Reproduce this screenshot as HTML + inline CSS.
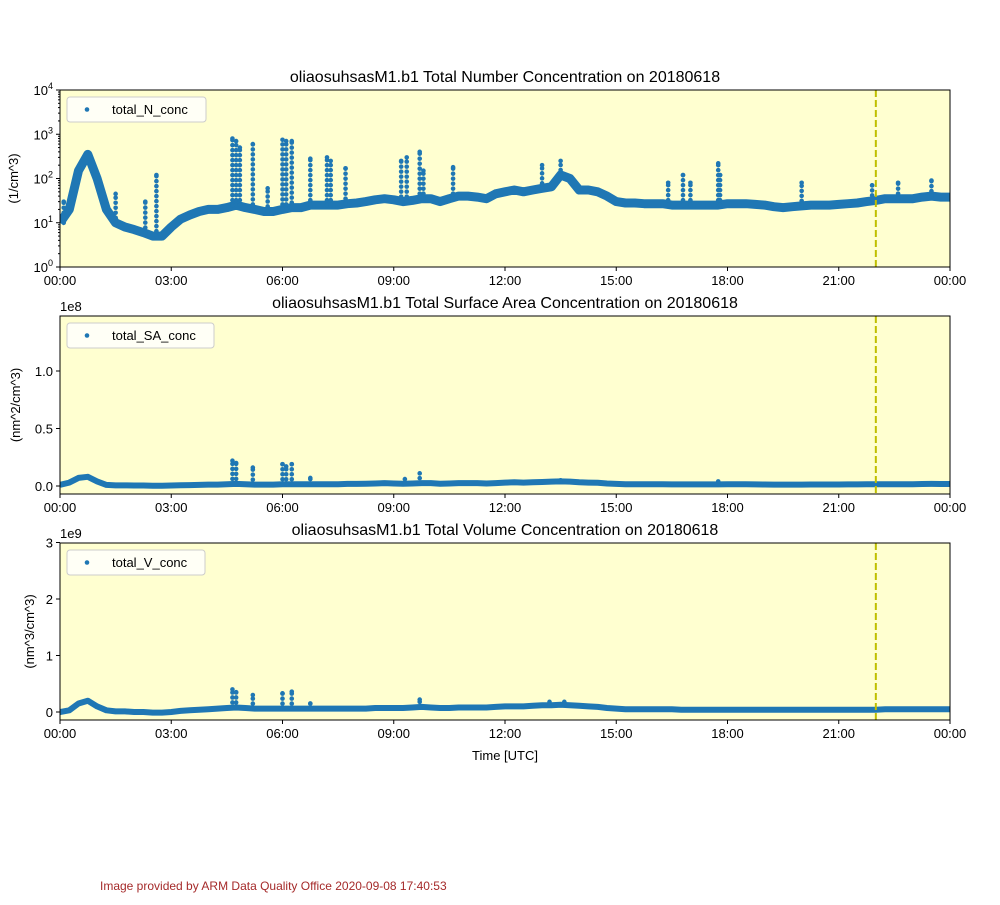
<!DOCTYPE html>
<html><head><meta charset="utf-8">
<style>
body{margin:0;background:#fff;}
svg text{font-family:"Liberation Sans","DejaVu Sans",sans-serif;}
</style></head>
<body>
<svg id="chart" width="1000" height="900" xmlns="http://www.w3.org/2000/svg">
<rect width="1000" height="900" fill="#fff"/>
<text x="100" y="890" font-size="12" fill="#a52a2a">Image provided by ARM Data Quality Office 2020-09-08 17:40:53</text>
</svg>
<script>
// Panel 1: number concentration (1/cm^3), base every 15 min 00:00..24:00
const nBase=[10,20,150,350,100,20,10,8,7,6,5,5,8,12,15,18,20,20,22,25,22,20,18,18,20,22,22,25,25,25,25,27,28,30,33,35,33,30,32,35,35,30,35,40,40,38,35,45,50,55,50,55,60,65,120,100,55,55,50,40,30,28,28,27,27,27,25,25,25,25,25,25,27,27,27,26,25,23,22,23,24,25,25,25,26,27,28,30,32,35,35,35,35,38,40,38,38];
const nSpikes=[[0.1,30],[1.5,45],[2.3,30],[2.6,120],[4.65,800],[4.75,700],[4.85,500],[5.2,600],[5.6,60],[6.0,750],[6.1,700],[6.25,700],[6.75,280],[7.2,300],[7.3,250],[7.7,170],[9.2,250],[9.35,300],[9.7,400],[9.8,150],[10.6,180],[13.0,200],[13.5,250],[16.4,80],[16.8,120],[17.0,80],[17.75,220],[17.8,120],[20.0,80],[21.9,70],[22.6,80],[23.5,90]];
// Panel 2: surface area (1e8 nm^2/cm^3)
const saBase=[0.01,0.03,0.07,0.08,0.04,0.01,0.005,0.005,0.004,0.004,0.003,0.003,0.004,0.006,0.008,0.01,0.012,0.012,0.015,0.018,0.015,0.012,0.012,0.012,0.015,0.015,0.015,0.016,0.016,0.016,0.016,0.018,0.018,0.02,0.022,0.025,0.022,0.02,0.022,0.025,0.025,0.02,0.022,0.025,0.025,0.025,0.022,0.025,0.03,0.032,0.03,0.032,0.035,0.038,0.04,0.038,0.032,0.03,0.028,0.022,0.018,0.016,0.015,0.015,0.015,0.015,0.014,0.014,0.014,0.014,0.014,0.014,0.015,0.015,0.015,0.014,0.013,0.012,0.012,0.012,0.012,0.013,0.013,0.013,0.013,0.014,0.014,0.015,0.015,0.016,0.016,0.016,0.016,0.017,0.018,0.017,0.017];
const saSpikes=[[4.65,0.22],[4.75,0.2],[5.2,0.16],[6.0,0.19],[6.1,0.17],[6.25,0.19],[6.75,0.07],[9.3,0.06],[9.7,0.11],[13.5,0.05],[17.75,0.04]];
// Panel 3: volume (1e9 nm^3/cm^3)
const vBase=[0.0,0.03,0.15,0.2,0.1,0.03,0.01,0.01,0.0,0.0,-0.01,-0.01,0.0,0.02,0.03,0.04,0.05,0.06,0.07,0.08,0.07,0.06,0.06,0.06,0.06,0.06,0.06,0.06,0.06,0.06,0.06,0.06,0.06,0.06,0.07,0.07,0.07,0.07,0.08,0.09,0.08,0.07,0.07,0.08,0.08,0.08,0.08,0.09,0.1,0.1,0.1,0.11,0.12,0.12,0.13,0.12,0.11,0.1,0.09,0.07,0.06,0.05,0.05,0.05,0.05,0.05,0.05,0.04,0.04,0.04,0.04,0.04,0.04,0.04,0.04,0.04,0.04,0.04,0.04,0.04,0.04,0.04,0.04,0.04,0.04,0.04,0.04,0.04,0.04,0.05,0.05,0.05,0.05,0.05,0.05,0.05,0.05];
const vSpikes=[[4.65,0.4],[4.75,0.35],[5.2,0.3],[6.0,0.33],[6.25,0.36],[6.75,0.15],[9.7,0.22],[13.2,0.18],[13.6,0.18]];
const xTicks=["00:00","03:00","06:00","09:00","12:00","15:00","18:00","21:00","00:00"];

const NS="http://www.w3.org/2000/svg";
const svg=document.getElementById('chart');
function el(t,a,p){const e=document.createElementNS(NS,t);for(const k in a)e.setAttribute(k,a[k]);(p||svg).appendChild(e);return e;}
const X0=60,X1=950;
function xs(h){return X0+(X1-X0)*h/24;}

function panel(cfg){
  const g=el('g',{});
  
  
  const ys=cfg.ys;
  el('rect',{x:X0,y:cfg.top,width:X1-X0,height:cfg.bot-cfg.top,fill:'#ffffd0'},g);
  const clip=el('clipPath',{id:'c'+cfg.name},g);
  el('rect',{x:X0,y:cfg.top,width:X1-X0,height:cfg.bot-cfg.top},clip);
  const dg=el('g',{'clip-path':'url(#c'+cfg.name+')'},g);
  
  
  let pts=cfg.base.map((v,i)=>xs(i*0.25).toFixed(1)+','+ys(v).toFixed(1)).join(' ');
  el('polyline',{points:pts,fill:'none',stroke:'#1f77b4','stroke-width':cfg.bw,'stroke-linejoin':'round'},dg);
  cfg.spikes.forEach(s=>{
    const x=xs(s[0]);const idx=Math.round(s[0]*4);const yb=ys(cfg.base[idx]);const yt=ys(s[1]);
    for(let y=yb;y>=yt;y-=5){const c=el('circle',{cx:x,cy:y,r:2.3,fill:'#1f77b4'},dg);
      }
    const c=el('circle',{cx:x,cy:yt,r:2.3,fill:'#1f77b4'},dg);
    
  });
  const vl=el('line',{x1:xs(22),x2:xs(22),y1:cfg.top,y2:cfg.bot,stroke:'#bfbf00','stroke-width':2,'stroke-dasharray':'7,3'},g);
  
  el('rect',{x:X0,y:cfg.top,width:X1-X0,height:cfg.bot-cfg.top,fill:'none',stroke:'#000','stroke-width':1},g);
  xTicks.forEach((t,i)=>{const x=xs(i*3);
    el('line',{x1:x,x2:x,y1:cfg.bot,y2:cfg.bot+4,stroke:'#000'},g);
    const tx=el('text',{x:x,y:cfg.bot+18,'font-size':13,'text-anchor':'middle'},g);tx.textContent=t;
    });
  cfg.yt.forEach(t=>{const y=ys(t.v);
    el('line',{x1:X0-4,x2:X0,y1:y,y2:y,stroke:'#000'},g);
    const tx=el('text',{x:X0-7,y:y+5,'font-size':13,'text-anchor':'end'},g);
    if(t.sup){tx.textContent='10';const s=el('tspan',{dy:-6,'font-size':9},tx);s.textContent=t.sup;}
    else tx.textContent=t.l;
    });
  if(cfg.minor)cfg.minor.forEach(v=>{const y=ys(v);el('line',{x1:X0-2,x2:X0,y1:y,y2:y,stroke:'#000'},g);});
  const ti=el('text',{x:505,y:cfg.top-8,'font-size':16,'text-anchor':'middle'},g);ti.textContent=cfg.title;
  
  const yl=el('text',{x:0,y:0,'font-size':13,'text-anchor':'middle',transform:`translate(${cfg.ylx},${(cfg.top+cfg.bot)/2}) rotate(-90)`},g);
  yl.textContent=cfg.ylabel;
  if(cfg.off){const o=el('text',{x:60,y:cfg.top-5,'font-size':13},g);o.textContent=cfg.off;}
  const lg=el('g',{},g);
  el('rect',{x:67,y:cfg.top+7,width:cfg.lw,height:25,rx:3,fill:'#fff','fill-opacity':0.8,stroke:'#ccc'},lg);
  el('circle',{cx:87,cy:cfg.top+19.5,r:2.3,fill:'#1f77b4'},lg);
  const lt=el('text',{x:112,y:cfg.top+24,'font-size':13},lg);lt.textContent=cfg.legend;
}
const n1=(v)=>267-44.25*Math.log10(Math.max(v,1));
const minor1=[];for(let d=0;d<4;d++)for(let k=2;k<10;k++)minor1.push(k*Math.pow(10,d));
panel({name:'number',top:90,bot:267,ys:n1,base:nBase,spikes:nSpikes,bw:9,title:'oliaosuhsasM1.b1 Total Number Concentration on 20180618',
  ylabel:'(1/cm^3)',ylx:18,legend:'total_N_conc',lw:139,minor:minor1,
  yt:[{v:1,sup:'0'},{v:10,sup:'1'},{v:100,sup:'2'},{v:1000,sup:'3'},{v:10000,sup:'4'}]});
panel({name:'surface-area',top:316,bot:494,ys:v=>486-115*v,base:saBase,spikes:saSpikes,bw:6,title:'oliaosuhsasM1.b1 Total Surface Area Concentration on 20180618',
  ylabel:'(nm^2/cm^3)',ylx:20,legend:'total_SA_conc',lw:147,off:'1e8',
  yt:[{v:0,l:'0.0'},{v:0.5,l:'0.5'},{v:1,l:'1.0'}]});
panel({name:'volume',top:543,bot:720,ys:v=>712-56.5*v,base:vBase,spikes:vSpikes,bw:6,title:'oliaosuhsasM1.b1 Total Volume Concentration on 20180618',
  ylabel:'(nm^3/cm^3)',ylx:34,legend:'total_V_conc',lw:138,off:'1e9',
  yt:[{v:0,l:'0'},{v:1,l:'1'},{v:2,l:'2'},{v:3,l:'3'}]});
const xl=el('text',{x:505,y:760,'font-size':13,'text-anchor':'middle'});xl.textContent='Time [UTC]';

</script>
</body></html>
